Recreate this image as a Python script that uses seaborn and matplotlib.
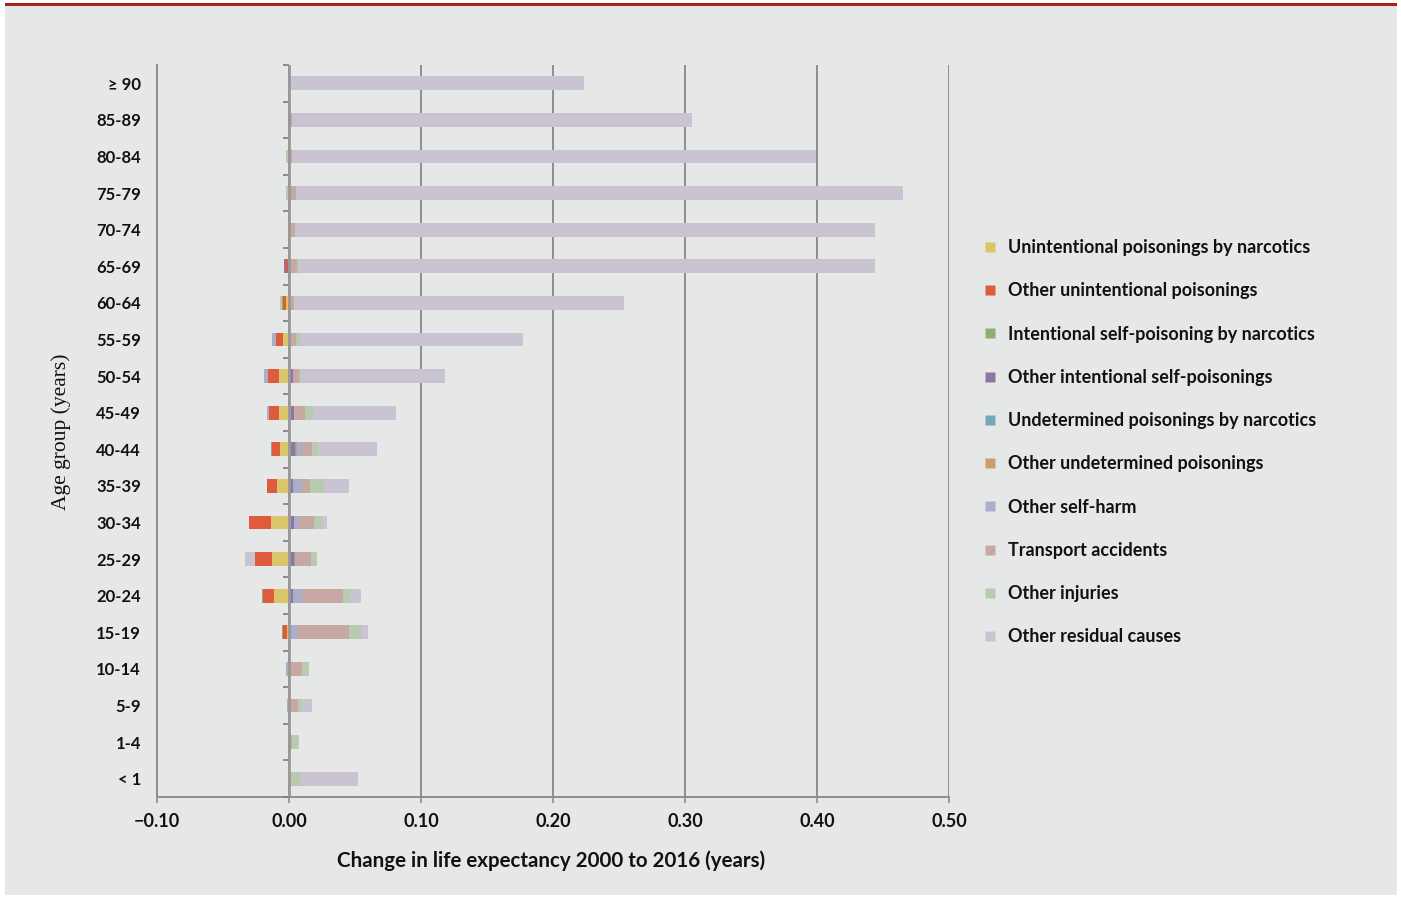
import numpy as np
import pandas as pd
import matplotlib
matplotlib.use("Agg")
import matplotlib.pyplot as plt
import seaborn as sns
from matplotlib import font_manager
from matplotlib.lines import Line2D
from matplotlib.patches import Rectangle

# ==========================
# DATA
# ==========================

ages = ["\u2265 90", "85-89", "80-84", "75-79", "70-74", "65-69", "60-64",
        "55-59", "50-54", "45-49", "40-44", "35-39", "30-34", "25-29",
        "20-24", "15-19", "10-14", "5-9", "1-4", "< 1"]

unint_narcotics = [0, 0, 0, 0, 0, 0, -0.0023, -0.0045, -0.0076, -0.0076,
                   -0.0068, -0.0091, -0.0136, -0.0129, -0.0114, -0.0015, 0, 0, 0, 0]
other_unint = [0, 0, 0, 0, -0.0010, -0.0023, -0.0023, -0.0053, -0.0083, -0.0076,
               -0.0060, -0.0076, -0.0167, -0.0129, -0.0083, -0.0030, 0, 0, -0.0008, 0]
int_narcotics = [0, 0, 0, 0, 0, 0, -0.0008, 0, 0, 0,
                 -0.0008, 0, 0, 0, -0.0008, -0.0008, 0, 0, 0, 0]
other_int = [0, 0, 0, 0, 0, -0.0015, 0, 0, 0.0030, 0.0038,
             0.0045, 0.0030, 0.0038, 0.0038, 0.0030, 0.0015, 0, 0, 0, 0]
undet_narcotics = [0, 0, 0, 0, 0, 0, 0, 0, 0, 0,
                   0.0005, 0, 0, 0.0008, 0, 0, 0, 0, 0, 0]
other_undet = [0, 0, 0, 0, 0, 0, 0.0008, 0, 0, 0,
               0.0010, 0, 0, 0, 0, 0, 0, -0.0008, 0, 0]
self_harm = [0, 0, -0.0010, 0, 0, 0.0015, 0, -0.0030, -0.0030, -0.0015,
             0.0038, 0.0068, 0.0038, 0, 0.0068, 0.0053, -0.0023, -0.0008, 0, 0]
transport = [0, 0.0023, 0.0023, 0.0053, 0.0045, 0.0045, 0.0030, 0.0053, 0.0045, 0.0083,
             0.0076, 0.0060, 0.0114, 0.0121, 0.0310, 0.0386, 0.0098, 0.0068, 0.0023, 0.0015]
other_injuries = [0, 0, -0.0010, -0.0020, 0, 0.0015, -0.0015, 0.0030, 0.0015, 0.0060,
                  0.0045, 0.0106, 0.0060, 0.0045, 0.0053, 0.0091, 0.0053, 0.0030, 0.0045, 0.0068]
residual = [0.2235, 0.3030, 0.3967, 0.4597, 0.4395, 0.4365, 0.2500, 0.1690, 0.1090, 0.0630,
            0.0448, 0.0190, 0.0038, -0.0076, 0.0083, 0.0053, 0, 0.0076, 0.0008, 0.0440]

series_names = ["Unintentional poisonings by narcotics",
                "Other unintentional poisonings",
                "Intentional self-poisoning by narcotics",
                "Other intentional self-poisonings",
                "Undetermined poisonings by narcotics",
                "Other undetermined poisonings",
                "Other self-harm",
                "Transport accidents",
                "Other injuries",
                "Other residual causes"]
series_values = [unint_narcotics, other_unint, int_narcotics, other_int,
                 undet_narcotics, other_undet, self_harm, transport,
                 other_injuries, residual]
colors = ["#D9C66B", "#DE5B3D", "#8FAE74", "#8E77A3", "#77A6B8",
          "#C9A06B", "#A9AEC9", "#C8A8A3", "#B7CBAF", "#CAC4D2"]

x_ticks = [-0.10, 0.00, 0.10, 0.20, 0.30, 0.40, 0.50]
x_tick_labels = ["\u22120.10", "0.00", "0.10", "0.20", "0.30", "0.40", "0.50"]

# ==========================
# FONTS / STYLE
# ==========================

sns.set_style("white")

installed = {f.name for f in font_manager.fontManager.ttflist}
sans = "Liberation Sans Narrow" if "Liberation Sans Narrow" in installed else "Lato"
serif = "Liberation Serif"
plt.rcParams["font.family"] = [sans, "DejaVu Sans"]

BG = "#E6E8E7"
GRID = "#8E8E8E"
TXT = "#111111"

# ==========================
# FIGURE
# ==========================

fig = plt.figure(figsize=(14.01, 8.98), dpi=100, facecolor="white")
W, H = 1401, 898
fig.patches.append(Rectangle((5 / W, 3 / H), 1392 / W, 890 / H,
                             transform=fig.transFigure, facecolor=BG,
                             edgecolor="none", zorder=-10))
fig.patches.append(Rectangle((5 / W, 1 - 6 / H), 1392 / W, 3 / H,
                             transform=fig.transFigure, facecolor="#A3231F",
                             edgecolor="none", zorder=-9))

ax = fig.add_axes([157 / W, 1 - 797 / H, 792 / W, 732 / H])
ax.set_facecolor("none")

# stacked bars: draw cumulative totals from outermost segment inward
vals = np.array(series_values, dtype=float)
pos_cum = np.cumsum(np.clip(vals, 0, None), axis=0)
neg_cum = np.cumsum(np.clip(vals, None, 0), axis=0)

for i in reversed(range(len(series_names))):
    for cum in (pos_cum, neg_cum):
        df = pd.DataFrame({"age": ages, "value": cum[i]})
        sns.barplot(data=df, x="value", y="age", order=ages, orient="h",
                    color=colors[i], saturation=1, width=0.38,
                    errorbar=None, ax=ax, zorder=2,
                    edgecolor="none", linewidth=0)

# axes styling
ax.set_xlim(-0.10, 0.50)
ax.set_ylim(19.5, -0.5)
ax.set_xticks(x_ticks)
ax.set_xticklabels(x_tick_labels, fontsize=13, color=TXT, weight="bold")
ax.tick_params(axis="x", length=4.5, width=1.2, color=GRID, pad=7,
               bottom=True)
ax.tick_params(axis="y", length=0, pad=11.5, labelsize=12,
               labelcolor=TXT, left=False)
for lab in ax.get_yticklabels():
    lab.set_fontweight("bold")

ax.grid(axis="x", color=GRID, linewidth=1.4)
ax.grid(axis="y", visible=False)
ax.set_axisbelow(True)

for side in ("top", "right"):
    ax.spines[side].set_visible(False)
for side in ("left", "bottom"):
    ax.spines[side].set_color(GRID)
    ax.spines[side].set_linewidth(1.4)

# small category separators on the zero line
ax.hlines(np.arange(len(ages) + 1) - 0.5, -0.0045, 0, color="#7a7a7a",
          linewidth=1.2, zorder=3, clip_on=False)
ax.axvline(0, color="#999999", linewidth=2, zorder=3)

ax.set_xlabel("Change in life expectancy 2000 to 2016 (years)",
              fontsize=14.8, color=TXT, weight="bold")
ax.xaxis.set_label_coords((551 - 157) / 792, (797 - 850) / 732)
ax.set_ylabel("Age group (years)", fontsize=15.5, color=TXT,
              family=[serif, "DejaVu Serif"])
ax.yaxis.set_label_coords((71 - 157) / 792, (797 - 432) / 732)

# legend
handles = [Line2D([0], [0], marker="s", linestyle="none", markersize=7.5,
                  markerfacecolor=c, markeredgecolor="none") for c in colors]
fig.legend(handles, series_names, loc="upper left",
           bbox_to_anchor=(972 / W, 1 - 230 / H), frameon=False,
           prop={"size": 13, "weight": "bold"},
           labelspacing=1.455, handletextpad=0.5,
           handlelength=1.0, borderpad=0, labelcolor=TXT)

plt.savefig("out.png", dpi=100, facecolor=fig.get_facecolor())
plt.close()
